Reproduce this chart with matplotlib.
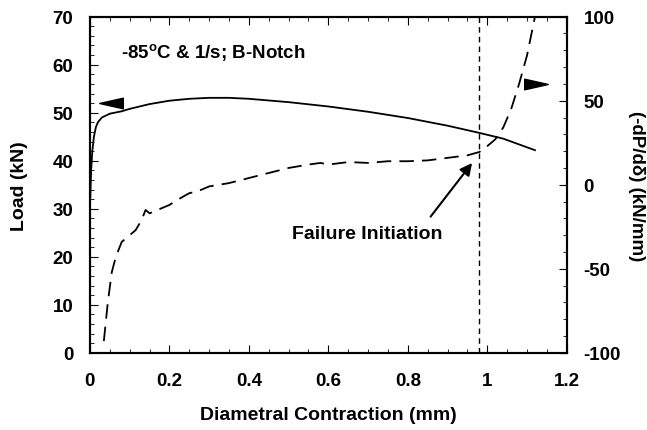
import numpy as np
import matplotlib.pyplot as plt
from matplotlib.ticker import MultipleLocator
from matplotlib.path import Path

plt.rcParams['font.family'] = ['Liberation Sans', 'DejaVu Sans']
plt.rcParams['font.weight'] = 'bold'
plt.rcParams['mathtext.fontset'] = 'custom'
plt.rcParams['mathtext.bf'] = 'Liberation Sans:bold'
plt.rcParams['mathtext.rm'] = 'Liberation Sans:bold'
plt.rcParams['axes.unicode_minus'] = False

# Load curve (left axis)
load_x = [0, 0.003, 0.006, 0.01, 0.015, 0.02, 0.03, 0.05, 0.08, 0.1, 0.15, 0.2, 0.25,
          0.3, 0.35, 0.4, 0.5, 0.6, 0.7, 0.8, 0.9, 0.98, 1.04, 1.08, 1.12]
load_y = [30, 38, 42, 45, 47, 48, 49, 49.8, 50.3, 50.8, 51.8, 52.5, 52.9,
          53.1, 53.1, 52.9, 52.2, 51.3, 50.2, 48.9, 47.3, 45.8, 44.6, 43.4, 42.2]

# -dP/d(delta) curve (right axis)
slope_x = [0.035, 0.045, 0.055, 0.065, 0.08, 0.1, 0.115, 0.13, 0.14, 0.15, 0.16, 0.18,
           0.2, 0.22, 0.25, 0.27, 0.3, 0.35, 0.4, 0.45, 0.5, 0.55, 0.58, 0.6, 0.65,
           0.7, 0.75, 0.8, 0.85, 0.9, 0.95, 0.98, 1.0, 1.02, 1.04, 1.06, 1.08, 1.1, 1.12]
slope_y = [-93, -70, -52, -43, -34, -30, -27, -21, -15, -17, -16, -14,
           -12, -9, -5, -4, -1, 1, 4, 7, 10, 12, 13, 12, 13.5,
           13, 14, 14, 14.5, 16, 17.5, 19.5, 23, 27, 34, 45, 60, 77, 100]

failure_x = 0.98

# flat triangles for the axis markers
left_tri = Path([(1, 0.45), (-1, 0), (1, -0.45), (1, 0.45)], closed=True)
right_tri = Path([(-1, 0.45), (1, 0), (-1, -0.45), (-1, 0.45)], closed=True)

fig = plt.figure(figsize=(6.47, 4.31), dpi=100)
ax = fig.add_axes([0.139, 0.179, 0.737, 0.780])
ax2 = ax.twinx()

ax.plot(load_x, load_y, color='black', lw=1.3)
ax2.plot(slope_x, slope_y, color='black', lw=1.3, dashes=(8, 4.5))
ax.axvline(failure_x, color='black', lw=1.0, dashes=(4, 3))

ax.set_xlim(0, 1.2)
ax.set_ylim(0, 70)
ax2.set_ylim(-100, 100)

ax.xaxis.set_major_locator(MultipleLocator(0.2))
ax.xaxis.set_minor_locator(MultipleLocator(0.05))
ax.yaxis.set_major_locator(MultipleLocator(10))
ax.yaxis.set_minor_locator(MultipleLocator(2))
ax2.yaxis.set_major_locator(MultipleLocator(50))
ax2.yaxis.set_minor_locator(MultipleLocator(10))

ax.set_xticks([0, 0.2, 0.4, 0.6, 0.8, 1.0, 1.2], ['0', '0.2', '0.4', '0.6', '0.8', '1', '1.2'])

ax.tick_params(axis='both', which='both', direction='in', top=True, labelsize=13.5)
ax.tick_params(axis='x', pad=14)
ax.tick_params(axis='y', pad=12)
ax.tick_params(axis='y', which='both', right=False)
ax.tick_params(which='major', length=6, width=0.8)
ax.tick_params(which='minor', length=3, width=0.6)
ax2.tick_params(axis='y', which='both', direction='in', labelsize=13.5, pad=12)
ax2.tick_params(which='major', length=6, width=0.8)
ax2.tick_params(which='minor', length=3, width=0.6)

for a in (ax, ax2):
    for s in a.spines.values():
        s.set_linewidth(1.5)

ax.set_xlabel('Diametral Contraction (mm)', fontsize=14, fontweight='bold', labelpad=12)
ax.set_ylabel('Load (kN)', fontsize=14, fontweight='bold', labelpad=18)
ax2.set_ylabel('(-dP/d\u03b4) (kN/mm)', fontsize=13.5, fontweight='bold', rotation=270,
               va='center')
ax2.yaxis.set_label_coords(1.147, 0.5)

ax.text(0.078, 62.7, r'-85$^{\mathbf{o}}$C & 1/s; B-Notch', fontsize=13.5, fontweight='bold', va='center')

# direction markers
ax.plot([0.052], [52], marker=left_tri, color='black', markersize=17)
ax2.plot([1.122], [60], marker=right_tri, color='black', markersize=17, clip_on=False)

ax.text(0.508, 24.8, 'Failure Initiation', fontsize=14, fontweight='bold', va='center')
ax.annotate('', xy=(0.966, 40), xytext=(0.853, 27.9),
            arrowprops=dict(arrowstyle='-|>', lw=1.5, color='black', mutation_scale=18))

fig.savefig('out.png', dpi=100)
